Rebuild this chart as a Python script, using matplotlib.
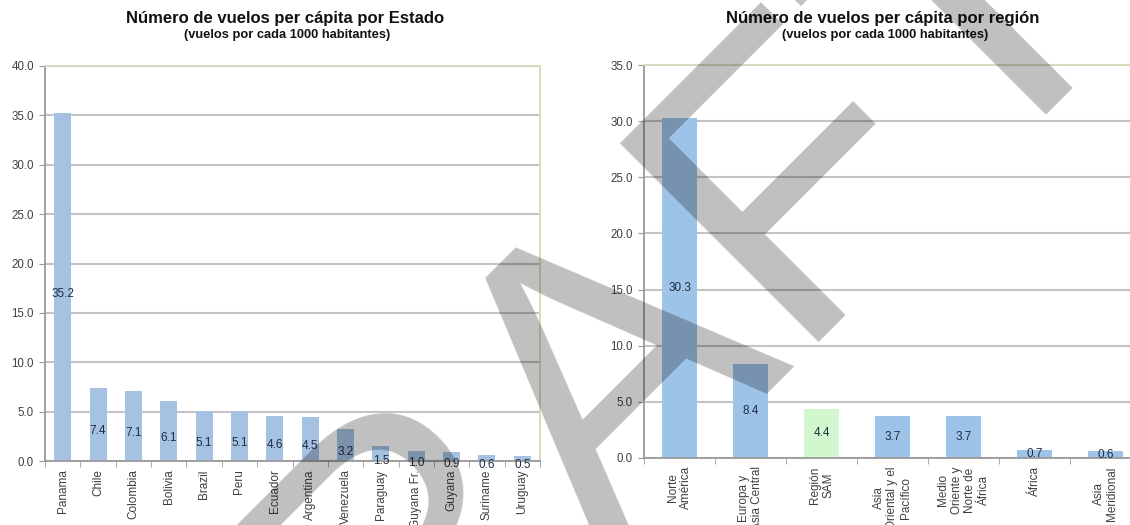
import matplotlib.pyplot as plt
import numpy as np

plt.rcParams['font.family'] = ['Liberation Sans', 'DejaVu Sans']

# data
estados = ['Panama', 'Chile', 'Colombia', 'Bolivia', 'Brazil', 'Peru', 'Ecuador',
           'Argentina', 'Venezuela', 'Paraguay', 'Guyana Fr.', 'Guyana', 'Suriname', 'Uruguay']
vuelos_estado = [35.2, 7.4, 7.1, 6.1, 5.1, 5.1, 4.6, 4.5, 3.2, 1.5, 1.0, 0.9, 0.6, 0.5]

regiones = ['Norte\nAmérica', 'Europa y\nAsia Central', 'Región\nSAM', 'Asia\nOriental y el\nPacífico',
            'Medio\nOriente y\nNorte de\nÁfrica', 'África', 'Asia\nMeridional']
vuelos_region = [30.3, 8.4, 4.4, 3.7, 3.7, 0.7, 0.6]
colores_region = ['#9dc3e8', '#9dc3e8', '#d2f7cf', '#9dc3e8', '#9dc3e8', '#9dc3e8', '#9dc3e8']

W, H = 1130, 525
fig = plt.figure(figsize=(W / 100, H / 100), dpi=100)
fig.patch.set_facecolor('white')


def px(l, t, r, b):
    return [l / W, 1 - b / H, (r - l) / W, (b - t) / H]


def style(ax, ymax, n):
    ax.set_xlim(-0.5, n - 0.5)
    ax.set_ylim(0, ymax)
    ax.set_yticks(np.arange(0, ymax + 0.1, 5))
    ax.set_yticklabels([f'{v:.1f}' for v in np.arange(0, ymax + 0.1, 5)])
    ax.grid(axis='y', color='#c4c4c4', lw=1.5, zorder=0)
    ax.set_axisbelow(True)
    for s in ['top', 'right']:
        ax.spines[s].set_color('#dcd8bc')
        ax.spines[s].set_linewidth(1.3)
    for s in ['left', 'bottom']:
        ax.spines[s].set_color('#9a9a9a')
        ax.spines[s].set_linewidth(1.3)
    ax.set_xticks(np.arange(n + 1) - 0.5, minor=True)
    ax.tick_params(axis='x', which='minor', length=4, color='#9a9a9a', direction='out')
    ax.tick_params(axis='x', which='major', length=0, pad=6, labelsize=8.5, labelcolor='#404040')
    ax.tick_params(axis='y', length=4, color='#9a9a9a', pad=4, labelsize=8.3, labelcolor='#404040')


# left chart
ax1 = fig.add_axes(px(45, 66, 540, 461))
x1 = np.arange(len(estados))
ax1.bar(x1, vuelos_estado, width=0.48, color='#a5c2e2', zorder=2)
style(ax1, 40, len(estados))
ax1.set_xticks(x1)
ax1.set_xticklabels(estados, rotation=90, va='top', ha='center')
for i, v in enumerate(vuelos_estado):
    ax1.annotate(f'{v:.1f}', (i, v / 2), xytext=(0, -5), textcoords='offset points',
                 ha='center', va='center', fontsize=8.5, color='#1f2d44', zorder=3)

fig.text(285 / W, 1 - 18 / H, 'Número de vuelos per cápita por Estado', ha='center', va='center',
         fontsize=12, fontweight='bold', color='#111111')
fig.text(287 / W, 1 - 35 / H, '(vuelos por cada 1000 habitantes)', ha='center', va='center',
         fontsize=9.3, fontweight='bold', color='#111111')

# right chart (cut by the picture edge)
ax2 = fig.add_axes(px(644, 65, 1141, 458))
x2 = np.arange(len(regiones))
ax2.bar(x2, vuelos_region, width=0.5, color=colores_region, zorder=2)
style(ax2, 35, len(regiones))
ax2.set_xticks(x2)
ax2.set_xticklabels(regiones, rotation=90, va='top', ha='center', multialignment='center')
for i, v in enumerate(vuelos_region):
    ax2.text(i, v / 2, f'{v:.1f}', ha='center', va='center', fontsize=8.5, color='#1f2d44', zorder=3)

fig.text(883 / W, 1 - 18 / H, 'Número de vuelos per cápita por región', ha='center', va='center',
         fontsize=12, fontweight='bold', color='#111111')
fig.text(885 / W, 1 - 35 / H, '(vuelos por cada 1000 habitantes)', ha='center', va='center',
         fontsize=9.3, fontweight='bold', color='#111111')

# watermark
fig.text(583 / W, 1 - 395 / H, 'DRAFT', rotation=45, ha='center', va='center',
         fontsize=294, color='black', alpha=0.25, zorder=10)

fig.savefig('out.png', dpi=100)
